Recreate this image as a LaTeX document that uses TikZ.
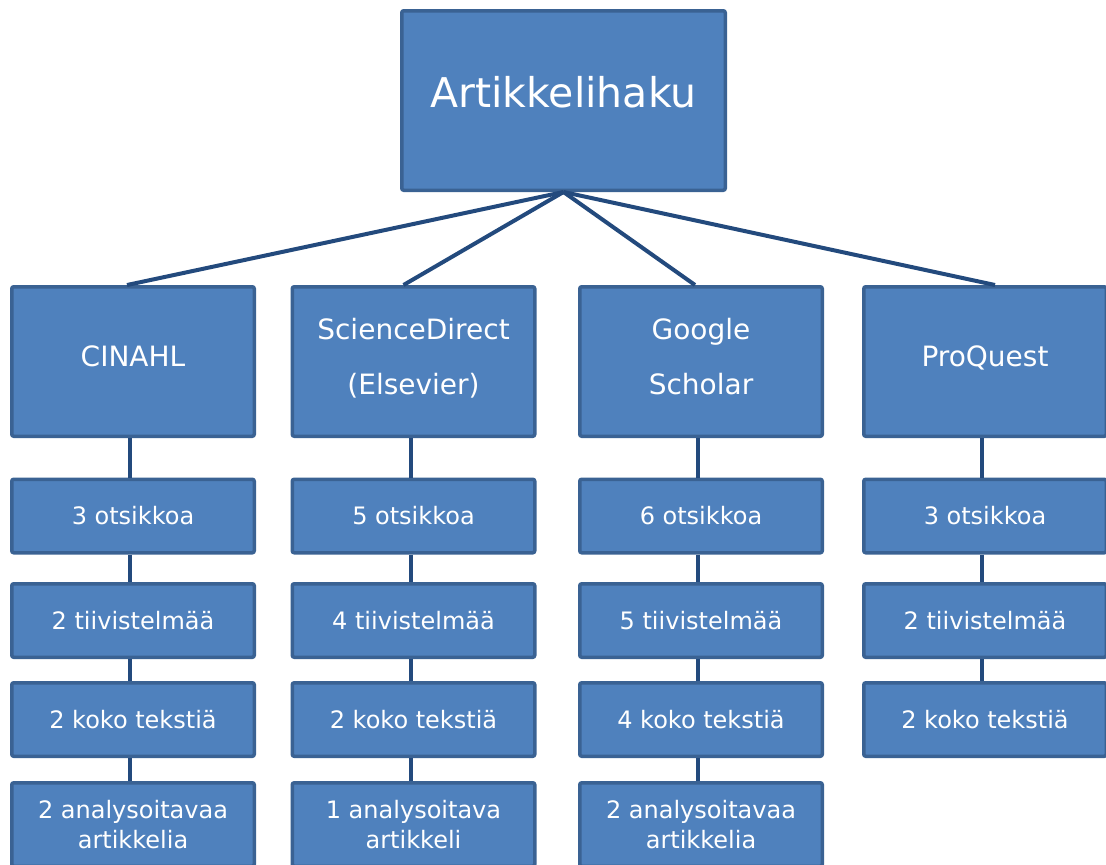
\documentclass[tikz,border=0pt]{standalone}
\usepackage{fontspec}
\setmainfont{DejaVu Sans}
\usetikzlibrary{positioning}
\definecolor{laatikko}{HTML}{4F81BD}
\definecolor{reuna}{HTML}{3A6293}
\definecolor{viiva}{HTML}{234A7D}

\begin{document}
\begin{tikzpicture}[x=0.5pt, y=-0.5pt,
        box/.style={draw=reuna, fill=laatikko, line width=1.75pt, rounded corners=1pt,
            text=white, align=center, minimum width=121.25pt, inner sep=2pt},
        paa/.style={box, minimum width=161.75pt, minimum height=89.75pt, text depth=9pt,
            font=\fontsize{20.5}{24}\selectfont},
        kanta/.style={box, minimum height=74.75pt, text depth=5pt, font=\fontsize{14}{27.5}\selectfont},
        vaihe/.style={box, minimum height=36.75pt, font=\fontsize{12}{15}\selectfont},
        yhd/.style={viiva, line width=2pt}]
        \useasboundingbox (0,0) rectangle (1106,864);
        \node[paa] (haku) at (563.5,100.5) {Artikkelihaku};
        \node[kanta] (cin) at (133,361.5)   {CINAHL};
        \node[kanta] (sd)  at (413.5,361.5) {ScienceDirect\\(Elsevier)};
        \node[kanta] (gs)  at (701,361.5)   {Google\\Scholar};
        \node[kanta] (pq)  at (985,361.5)   {ProQuest};
        % CINAHL
        \node[vaihe] (cin1) at (133,516)   {3 otsikkoa};
        \node[vaihe] (cin2) at (133,620.5) {2 tiivistelmää};
        \node[vaihe] (cin3) at (133,719.5) {2 koko tekstiä};
        \node[vaihe, minimum height=41.75pt] (cin4) at (133,824.5) {2 analysoitavaa\\artikkelia};
        % ScienceDirect
        \node[vaihe] (sd1) at (413.5,516)   {5 otsikkoa};
        \node[vaihe] (sd2) at (413.5,620.5) {4 tiivistelmää};
        \node[vaihe] (sd3) at (413.5,719.5) {2 koko tekstiä};
        \node[vaihe, minimum height=41.75pt] (sd4) at (413.5,824.5) {1 analysoitava\\artikkeli};
        % Google Scholar
        \node[vaihe] (gs1) at (701,516)   {6 otsikkoa};
        \node[vaihe] (gs2) at (701,620.5) {5 tiivistelmää};
        \node[vaihe] (gs3) at (701,719.5) {4 koko tekstiä};
        \node[vaihe, minimum height=41.75pt] (gs4) at (701,824.5) {2 analysoitavaa\\artikkelia};
        % ProQuest
        \node[vaihe] (pq1) at (985,516)   {3 otsikkoa};
        \node[vaihe] (pq2) at (985,620.5) {2 tiivistelmää};
        \node[vaihe] (pq3) at (985,719.5) {2 koko tekstiä};
        \draw[yhd] (haku.south) -- ([xshift=-3pt]cin.north);
        \draw[yhd] (haku.south) -- ([xshift=-5pt]sd.north);
        \draw[yhd] (haku.south) -- ([xshift=-3pt]gs.north);
        \draw[yhd] (haku.south) -- ([xshift=5pt]pq.north);
        \foreach \a/\b in {cin/cin1, cin1/cin2, cin2/cin3, cin3/cin4,
            sd/sd1, sd1/sd2, sd2/sd3, sd3/sd4,
            gs/gs1, gs1/gs2, gs2/gs3, gs3/gs4,
            pq/pq1, pq1/pq2, pq2/pq3}
            \draw[yhd] ([xshift=-1.5pt]\a.south) -- ([xshift=-1.5pt]\b.north);
\end{tikzpicture}
\end{document}
